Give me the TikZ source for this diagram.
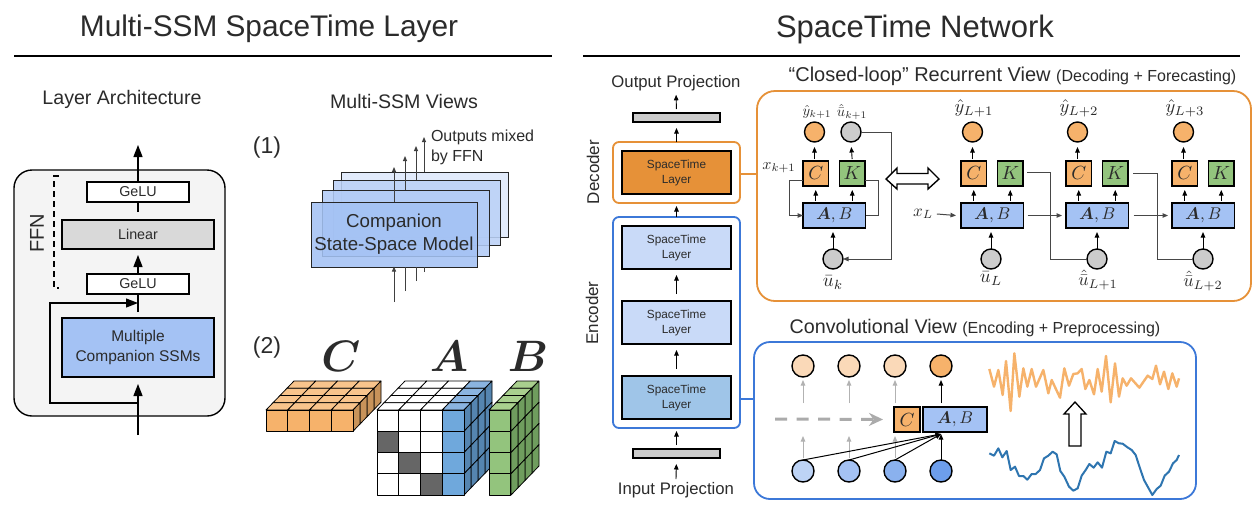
\documentclass[tikz,border=0pt]{standalone}
\usepackage{amsmath,amssymb}
\usepackage[no-math]{fontspec}
\setmainfont{Liberation Sans}
\usetikzlibrary{arrows.meta}
\definecolor{ink}{HTML}{2B2B2B}
\definecolor{panelgray}{HTML}{F4F4F4}
\definecolor{lingray}{HTML}{D9D9D9}
\definecolor{ssmblue}{HTML}{A4C2F4}
\definecolor{layerblue}{HTML}{C9DAF8}
\definecolor{layerdeep}{HTML}{9FC5E8}
\definecolor{decorange}{HTML}{E69138}
\definecolor{soforange}{HTML}{F6B26B}
\definecolor{kgreen}{HTML}{93C47D}
\definecolor{encblue}{HTML}{3C78D8}
\definecolor{cgray}{HTML}{CCCCCC}
\definecolor{ctop}{HTML}{F8C48C}
\definecolor{cside}{HTML}{C8935A}
\definecolor{afront}{HTML}{6FA8DC}
\definecolor{atop}{HTML}{8AB4E0}
\definecolor{aside}{HTML}{5585B0}
\definecolor{btop}{HTML}{A9D08E}
\definecolor{bside}{HTML}{6F9D5E}
\definecolor{serblue}{HTML}{2E75B0}
\definecolor{bo}{HTML}{BDD3F5}
\definecolor{bt}{HTML}{8AB1EE}
\definecolor{bf}{HTML}{6D9EEB}
\definecolor{tl}{HTML}{FAD9B8}
\newcommand{\fz}[2]{\fontsize{#1}{#2}\selectfont}
\tikzset{
  rect/.style={rectangle,draw=black,line width=1.4pt,inner sep=0pt,outer sep=0pt,align=center,text=ink},
  dot/.style={circle,draw=black,line width=1.4pt,inner sep=0pt,outer sep=0pt,minimum size=20pt},
  lab/.style={inner sep=0pt,outer sep=0pt,text=ink,align=center},
  mlab/.style={inner sep=0pt,outer sep=0pt,text=ink,scale=#1},
  big/.style={-{Triangle[length=12pt,width=9pt]},line width=1.3pt,black},
  sm/.style={-{Triangle[length=5.5pt,width=4.5pt]},line width=0.9pt,black},
  gl/.style={line width=1pt,draw=black!72},
  glarr/.style={-{Triangle[length=5.5pt,width=4.5pt]},line width=1pt,black!72},
  fad/.style={-{Triangle[length=5.5pt,width=4.5pt]},line width=1pt,black!30},
  cube/.style={draw=black,line width=0.8pt,line join=round},
  sheet/.style={rectangle,draw=black!85,line width=0.9pt,inner sep=0pt,outer sep=0pt,align=center,text=ink,fill opacity=0.88,text opacity=1},
  stk/.style={-{Triangle[length=5pt,width=4pt]},line width=0.9pt,black!75},
  lay/.style={fill=#1,line width=1.6pt,font=\fz{11.8}{15}},
}
\newcommand{\bx}[7]{%
  \pgfmathsetmacro\bxw{#4-#2}\pgfmathsetmacro\bxh{#5-#3}%
  \node[rect,#6,minimum width=\bxw pt,minimum height=\bxh pt] (#1) at ({(#2+#4)/2},{(#3+#5)/2}) {#7};}
\def\qw{21.75}\def\qh{21.25}\def\qdx{7}\def\qdy{7.25}
\newcommand{\ftcell}[5]{\draw[cube,fill=#5] ({#1+#3*\qw},{#2+#4*\qh}) rectangle ++(\qw,\qh);}
\newcommand{\tpcell}[5]{\draw[cube,fill=#5] ({#1+#3*\qw+#4*\qdx},{#2-#4*\qdy}) -- ++(\qw,0) -- ++(\qdx,-\qdy) -- ++(-\qw,0) -- cycle;}
\newcommand{\sdcell}[5]{\draw[cube,fill=#5] ({#1+#4*\qdx},{#2+#3*\qh-#4*\qdy}) -- ++(\qdx,-\qdy) -- ++(0,\qh) -- ++(-\qdx,\qdy) -- cycle;}
\newcommand{\ssmunit}[3]{% id, left x, u x
  \pgfmathsetmacro\ua{#2}\pgfmathsetmacro\ub{#2+36.5}\pgfmathsetmacro\uc{#2+62.5}
  \bx{C#1}{\ua}{161}{\ua+25.5}{186}{fill=soforange}{\scalebox{1.9}{$C$}}
  \bx{K#1}{\ub}{161}{\ub+25.5}{186}{fill=kgreen}{\scalebox{1.9}{$K$}}
  \bx{AB#1}{\ua}{203}{\uc}{228}{fill=ssmblue}{\scalebox{1.7}{$\boldsymbol{A},B$}}
  \node[dot,fill=soforange] (y#1) at ({#2+11.5},132) {};
  \node[dot,fill=cgray] (u#1) at (#3,259) {};
  \draw[sm,shorten <=2pt,shorten >=5pt] (C#1.north -| y#1.south) -- (y#1.south);
  \draw[sm,shorten <=2pt,shorten >=4pt] (C#1.south |- AB#1.north) -- (C#1.south);
  \draw[sm,shorten <=2pt,shorten >=4pt] (K#1.south |- AB#1.north) -- (K#1.south);
  \draw[sm,shorten >=4pt,line width=1pt] (u#1.north) -- (u#1.north |- AB#1.south);
}
\begin{document}
\begin{tikzpicture}[x=1pt,y=-1pt]
\useasboundingbox (0,0) rectangle (1258,531);
\fill[white] (0,0) rectangle (1258,531);

% Titles
\node[lab,font=\fz{29.8}{34}] (t1) at (269,29) {Multi-SSM SpaceTime Layer};
\node[lab,font=\fz{31}{36}] (t2) at (915,29) {SpaceTime Network};
\draw[line width=1.2pt] (14,56) -- (552,56);
\draw[line width=1.2pt] (583,56) -- (1240,56);

% ---------- Layer architecture
\node[lab,font=\fz{19.6}{22}] (la) at (122,99) {Layer Architecture};
\bx{panel}{14}{170}{225}{416}{fill=panelgray,rounded corners=18pt}{}
\bx{g2}{87}{182}{189}{202}{fill=white,line width=1.2pt,font=\fz{14.3}{16}}{GeLU}
\bx{lin}{62}{220}{214}{249}{fill=lingray,line width=1.2pt,font=\fz{14.3}{16}}{Linear}
\bx{g1}{87}{274}{189}{294}{fill=white,line width=1.2pt,font=\fz{14.3}{16}}{GeLU}
\bx{ssm}{62}{318}{214}{377}{fill=ssmblue,line width=1.2pt,font=\fz{15.5}{20}}{Multiple\\Companion SSMs}
\coordinate (oute) at (138,145);
\coordinate (ine) at (138,435);
\coordinate (tap) at (138,403);
\coordinate (mrg) at (138,303);
\draw[big] (g2.north) -- (oute);
\draw[line width=1.3pt] ([yshift=-10pt]g2.south) -- (g2.south);
\draw[big,shorten >=6pt] (g1.north) -- (lin.south);
\draw[line width=1.3pt] ([yshift=6pt]ssm.north) -- ([yshift=0pt]g1.south);
\draw[big,shorten >=7pt] (ine) -- (ssm.south);
\draw[-{Triangle[length=12pt,width=9pt]},line width=1.2pt] (tap) -- (50,403) -- (50,303) -- (mrg);
\draw[line width=1.3pt,dash pattern=on 6pt off 4pt] (59,176) -- (54,176) -- (54,288) -- (59,288);
\node[lab,font=\fz{20}{22},rotate=90] (ffn) at (37,233) {FFN};

% ---------- Multi-SSM views
\node[lab,font=\fz{19.6}{22}] (mv) at (404,101) {Multi-SSM Views};
\node[lab,font=\fz{23}{26}] (v1) at (267,148) {(1)};
\node[lab,font=\fz{23}{26}] (v2) at (267,348) {(2)};
\bx{s4}{341}{172}{508}{237}{sheet,fill=layerblue!60!white}{}
\bx{s3}{333}{180}{500}{245}{sheet,fill=ssmblue!75!white}{}
\bx{s2}{322}{190}{489}{256}{sheet,fill=ssmblue!85!white}{}
\bx{s1}{311}{202}{477}{267}{sheet,fill=ssmblue,line width=1pt,font=\fz{18.7}{23}}{Companion\\State-Space Model}
\coordinate (o1) at (394,167); \coordinate (o2) at (405,156); \coordinate (o3) at (416,146); \coordinate (o4) at (424,137);
\coordinate (i1) at (394,302); \coordinate (i2) at (405,291); \coordinate (i3) at (416,281); \coordinate (i4) at (424,272);
\draw[stk] (o1 |- s1.north) -- (o1);
\draw[stk] (o2 |- s2.north) -- (o2);
\draw[stk] (o3 |- s3.north) -- (o3);
\draw[stk] (o4 |- s4.north) -- (o4);
\draw[stk,shorten >=-0.5pt] (i1) -- (i1 |- s1.south);
\draw[line width=0.9pt,black!75] (i2) -- (i2 |- s1.south);
\draw[line width=0.9pt,black!75] (i3) -- (i3 |- s1.south);
\draw[line width=0.9pt,black!75] (i4) -- (i4 |- s1.south);
\node[lab,font=\fz{16}{20},align=left,anchor=north west] (om) at (431,130) {Outputs mixed\\by FFN};

% ---------- Cubes
\node[mlab=4.4] (lC) at (341,356) {$\boldsymbol{C}$};
\node[mlab=4.4] (lA) at (449,356) {$\boldsymbol{A}$};
\node[mlab=4.4] (lB) at (528,356) {$\boldsymbol{B}$};
% C slab
\foreach \i in {0,...,3}{\foreach \d in {3,2,1,0}{\tpcell{266}{410}{\i}{\d}{ctop}}}
\foreach \d in {3,2,1,0}{\sdcell{353}{410}{0}{\d}{cside}}
\foreach \i in {0,...,3}{\ftcell{266}{410}{\i}{0}{soforange}}
% A cube
\foreach \d in {3,2,1,0}{\foreach \i in {0,1,2}{\tpcell{377}{410}{\i}{\d}{white}}\tpcell{377}{410}{3}{\d}{atop}}
\foreach \r in {0,...,3}{\foreach \d in {3,2,1,0}{\sdcell{464}{410}{\r}{\d}{aside}}}
\foreach \r in {0,...,3}{\foreach \i in {0,1,2}{\ftcell{377}{410}{\i}{\r}{white}}\ftcell{377}{410}{3}{\r}{afront}}
\foreach \r/\i in {1/0,2/1,3/2}{\ftcell{377}{410}{\i}{\r}{black!60}}
% B cube
\foreach \d in {3,2,1,0}{\tpcell{489}{410}{0}{\d}{btop}}
\foreach \r in {0,...,3}{\foreach \d in {3,2,1,0}{\sdcell{511}{410}{\r}{\d}{bside}}}
\foreach \r in {0,...,3}{\ftcell{489}{410}{0}{\r}{kgreen}}

% ---------- SpaceTime network stack
\node[lab,font=\fz{16.7}{18}] (op) at (676,83) {Output Projection};
\node[lab,font=\fz{16.7}{18}] (ip) at (676,490) {Input Projection};
\bx{obar}{633}{113}{720}{122}{fill=cgray,line width=1.6pt}{}
\bx{ibar}{633}{449}{720}{458}{fill=cgray,line width=1.6pt}{}
\bx{dec}{613}{142}{740}{203}{draw=decorange,fill=white,line width=1.8pt,rounded corners=6pt}{}
\bx{enc}{613}{217}{740}{428}{draw=encblue,fill=white,line width=1.8pt,rounded corners=6pt}{}
\bx{ld}{622}{151}{731}{194}{lay=decorange}{SpaceTime\\Layer}
\bx{l3}{622}{226}{731}{269}{lay=layerblue}{SpaceTime\\Layer}
\bx{l2}{622}{301}{731}{344}{lay=layerblue}{SpaceTime\\Layer}
\bx{l1}{622}{376}{731}{419}{lay=layerdeep}{SpaceTime\\Layer}
\node[lab,font=\fz{17}{18},rotate=90] (ldec) at (593,172) {Decoder};
\node[lab,font=\fz{17}{18},rotate=90] (lenc) at (592,313) {Encoder};
\draw[sm,shorten <=4pt,shorten >=4pt] (obar.north) -- (op.south);
\draw[sm,shorten >=6pt] (dec.north) -- (obar.south);
\draw[sm,shorten >=3pt] (enc.north) -- (dec.south);
\draw[sm,shorten <=7pt,shorten >=6pt] (l2.north) -- (l3.south);
\draw[sm,shorten <=7pt,shorten >=6pt] (l1.north) -- (l2.south);
\draw[sm,shorten <=4pt,shorten >=3pt] (ibar.north) -- (enc.south);
\coordinate (ipt) at (676,479);
\draw[sm,shorten >=6pt] (ipt) -- (ibar.south);

% ---------- Closed loop panel
\node[lab,font=\fz{20}{22}] (tcl) at (1012.5,76) {“Closed-loop” Recurrent View {\fz{16}{18}(Decoding + Forecasting)}};
\bx{pc}{757}{91}{1251}{301}{draw=decorange,fill=none,line width=1.8pt,rounded corners=18pt}{}
\draw[decorange,line width=1.8pt] (dec.east |- 0,174) -- (pc.west |- 0,174);

\ssmunit{1}{803}{833}
\node[dot,fill=cgray] (uh) at (851,132) {};
\draw[sm,shorten <=2pt,shorten >=5pt] (K1.north) -- (uh.south);
\draw[gl,-{Triangle[length=5.5pt,width=4.5pt]}] ([yshift=-6.5pt]C1.west) -- ++(-14,0) |- (AB1.west);
\draw[gl] ([yshift=-6.5pt]K1.east) -- ++(13,0) |- (AB1.east);
\draw[glarr] (uh.east) -- (891,132) |- (u1.east);
\node[mlab=1.45] (ly1) at (817,112) {$\hat{y}_{k+1}$};
\node[mlab=1.45] (lu1) at (852,112) {$\hat{\bar{u}}_{k+1}$};
\node[mlab=1.6] (lx1) at (779,168) {$x_{k+1}$};
\node[mlab=1.9] (lub) at (833,283) {$\bar{u}_{k}$};
\draw[black,fill=white,line width=1.4pt,line join=miter] (886,179) -- (897,168) -- (897,173.5) -- (928,173.5) -- (928,168) -- (939,179) -- (928,189) -- (928,184) -- (897,184) -- (897,189) -- cycle;

\ssmunit{2}{961}{991}
\ssmunit{3}{1066}{1097}
\ssmunit{4}{1172}{1203}
\node[mlab=1.85] (ly2) at (974,108) {$\hat{y}_{L+1}$};
\node[mlab=1.85] (ly3) at (1079,108) {$\hat{y}_{L+2}$};
\node[mlab=1.85] (ly4) at (1185,108) {$\hat{y}_{L+3}$};
\node[mlab=1.9] (lub2) at (991,279) {$\bar{u}_{L}$};
\node[mlab=1.8] (lu3) at (1098,280) {$\hat{\bar{u}}_{L+1}$};
\node[mlab=1.8] (lu4) at (1203,281) {$\hat{\bar{u}}_{L+2}$};
\node[mlab=1.7] (xL) at (923,214) {$x_{L}$};
\draw[glarr] ([xshift=4pt]xL.east) -- ([xshift=-5pt]AB2.west);
\draw[glarr] ([xshift=4pt]AB2.east) -- ([xshift=-4pt]AB3.west);
\draw[glarr] ([xshift=5pt]AB3.east) -- ([xshift=-4pt]AB4.west);
\draw[gl] ([xshift=4pt,yshift=1.5pt]K2.east) -- (1050,172) |- (u3.west);
\draw[gl] ([xshift=5pt]K3.east) -- (1157,173.5) |- (u4.west);

% ---------- Convolutional panel
\node[lab,font=\fz{19.7}{22}] (tcv) at (975,328) {Convolutional View {\fz{16}{18}(Encoding + Preprocessing)}};
\bx{pb}{754}{342}{1196}{499}{draw=encblue,fill=none,line width=1.8pt,rounded corners=16pt}{}
\draw[encblue,line width=1.8pt] (enc.east |- 0,399) -- (pb.west |- 0,399);
\node[dot,minimum size=22pt,fill=tl] (t1c) at (803,366) {};
\node[dot,minimum size=22pt,fill=tl] (t2c) at (849,366) {};
\node[dot,minimum size=22pt,fill=tl] (t3c) at (895,366) {};
\node[dot,minimum size=22pt,fill=soforange] (t4c) at (941,366) {};
\node[dot,minimum size=22pt,fill=bo] (b1c) at (803,471) {};
\node[dot,minimum size=22pt,fill=ssmblue] (b2c) at (849,471) {};
\node[dot,minimum size=22pt,fill=bt] (b3c) at (895,471) {};
\node[dot,minimum size=22pt,fill=bf] (b4c) at (941,471) {};
\bx{cC}{894}{407}{920}{432}{fill=soforange}{\scalebox{1.9}{$C$}}
\bx{cAB}{923}{407}{987}{432}{fill=ssmblue}{\scalebox{1.7}{$\boldsymbol{A},B$}}
\foreach \n in {1,2,3}{
  \draw[fad,shorten >=3pt] ([yshift=-26pt]t\n c.south) -- (t\n c.south);
  \draw[fad] ([yshift=2pt]b\n c.north) -- ++(0,-22);
}
\draw[sm,line width=1pt,shorten >=3pt] ([yshift=-26pt]t4c.south) -- (t4c.south);
\coordinate (conv) at (941,434);
\coordinate (dst) at (775,419);
\draw[sm,line width=1pt] (b1c.north) -- (conv);
\draw[sm,line width=1pt] (b2c.north) -- (conv);
\draw[sm,line width=1pt] (b3c.north) -- (conv);
\draw[sm,line width=1pt] (b4c.north) -- (conv);
\draw[black!33,line width=3pt,dash pattern=on 12pt off 9.5pt,-{Stealth[length=14pt,width=13pt]},shorten >=11pt] (dst) -- (cC.west);

% Series
\begin{scope}[shift={(980pt,-345pt)},x=0.33333pt,y=-0.33333pt]
\draw[soforange,line width=2.4pt,line join=round] plot coordinates {(28,72)(42,125)(55,75)(68,150)(78,48)(92,198)(103,25)(118,155)(130,70)(142,125)(155,72)(168,125)(190,75)(205,145)(215,105)(240,158)(253,70)(267,122)(280,87)(293,85)(305,72)(316,132)(328,105)(342,148)(353,72)(365,140)(378,33)(392,172)(405,55)(417,155)(428,100)(440,122)(453,100)(478,128)(503,92)(517,102)(528,62)(540,118)(552,80)(565,132)(577,85)(590,125)(597,100)};
\draw[serblue,line width=2pt,line join=round] plot coordinates {(28,325)(42,332)(55,310)(67,337)(80,318)(92,375)(105,365)(117,393)(130,393)(142,404)(155,387)(167,387)(180,375)(192,340)(205,332)(218,320)(230,328)(241,378)(253,395)(267,425)(280,437)(293,430)(305,392)(317,375)(328,357)(341,368)(353,352)(366,368)(379,320)(392,325)(404,288)(417,295)(428,296)(441,306)(455,315)(467,330)(480,370)(492,405)(517,450)(530,432)(542,422)(554,392)(567,380)(579,355)(590,345)(597,330)};
\end{scope}
\draw[black,fill=white,line width=1.3pt] (1075,402) -- (1086,414) -- (1081,414) -- (1081,446) -- (1069,446) -- (1069,414) -- (1064,414) -- cycle;
\end{tikzpicture}
\end{document}
